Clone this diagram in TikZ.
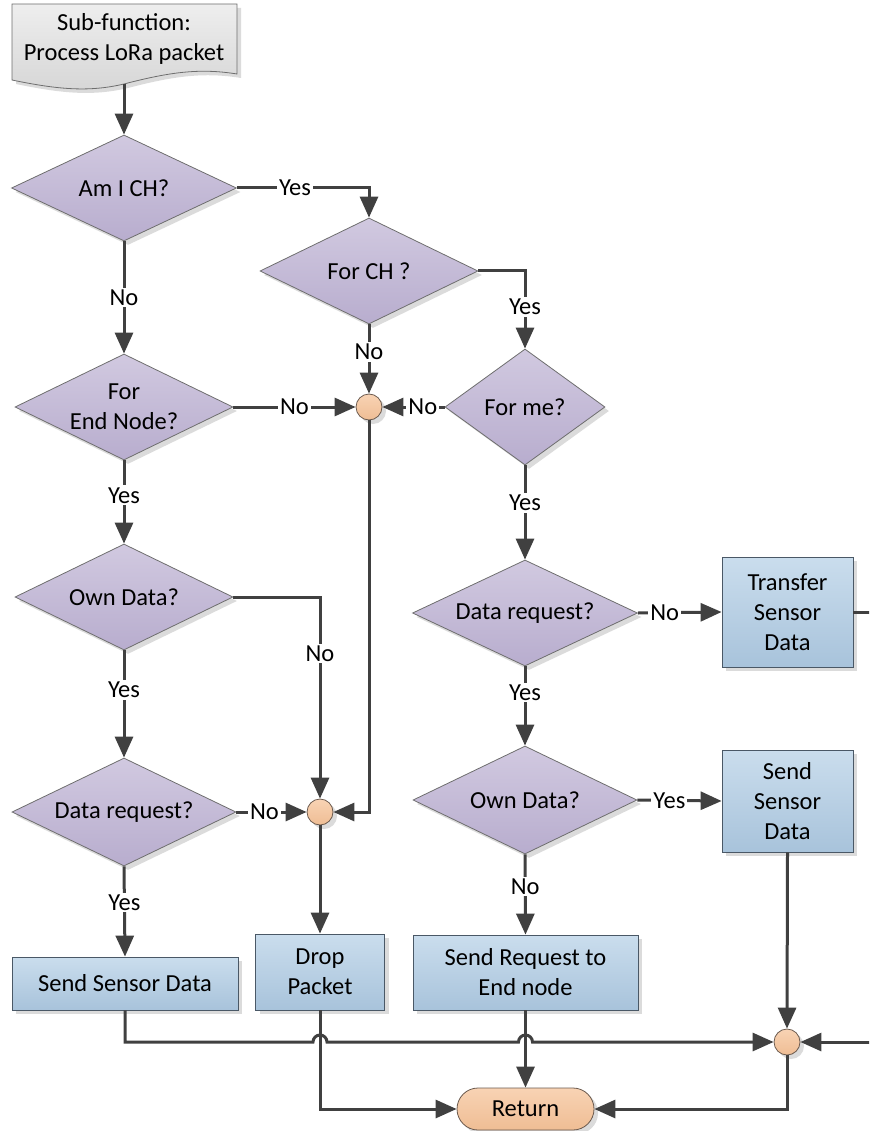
\documentclass[tikz,border=0pt]{standalone}
\usepackage{fontspec}
\setmainfont{Carlito}
\usetikzlibrary{arrows.meta,shapes.geometric,calc,shadows}

\definecolor{lineclr}{HTML}{404040}
\definecolor{decTop}{HTML}{D1C9E0}
\definecolor{decBot}{HTML}{B8ADCE}
\definecolor{decEdge}{HTML}{6E6E6E}
\definecolor{boxTop}{HTML}{CADDED}
\definecolor{boxBot}{HTML}{A8C3DB}
\definecolor{boxEdge}{HTML}{4A5866}
\definecolor{joinTop}{HTML}{F8D3B4}
\definecolor{joinBot}{HTML}{EFBD94}
\definecolor{joinEdge}{HTML}{6B5A4E}
\definecolor{docTop}{HTML}{EEEEEE}
\definecolor{docBot}{HTML}{D6D6D6}

\tikzset{
  txt/.style={font=\fontsize{24.5}{30}\selectfont, align=center, inner sep=0pt, text=black},
  shade/.style={drop shadow={shadow xshift=4pt, shadow yshift=-4pt, fill=black!14, opacity=1}},
  decision/.style 2 args={txt, diamond, shape aspect=2.1, draw=decEdge, line width=0.8pt,
    top color=decTop, bottom color=decBot, minimum width=#1, minimum height=#2, shade},
  process/.style 2 args={txt, rectangle, draw=boxEdge, line width=0.8pt,
    top color=boxTop, bottom color=boxBot, minimum width=#1, minimum height=#2, shade},
  junction/.style={circle, draw=joinEdge, line width=0.8pt, top color=joinTop,
    bottom color=joinBot, minimum size=26pt, inner sep=0pt, shade},
  terminal/.style={txt, rectangle, rounded corners=21pt, draw=joinEdge, line width=0.8pt,
    top color=joinTop, bottom color=joinBot, minimum width=137pt, minimum height=42pt, shade},
  flow/.style={draw=lineclr, line width=3pt, -{Triangle[length=21pt,width=18pt]}},
  lbl/.style={txt, fill=white, inner sep=2pt}
}

\begin{document}
\begin{tikzpicture}[x=1pt,y=1pt]
\useasboundingbox (0,0) rectangle (869,-1131);
\clip (0,0) rectangle (869,-1131);

% start document shape
\path[draw=decEdge, line width=0.8pt, top color=docTop, bottom color=docBot, shade]
  (12,-4) -- (237,-4) -- (237,-74)
  .. controls (200,-68) and (170,-72) .. (124,-84)
  .. controls (90,-92) and (60,-90) .. (12,-80) -- cycle;
\node[txt] (start) at (124,-39) {Sub-function:\\Process LoRa packet};
\coordinate (startout) at (124,-84);

% decisions
\node[decision={225pt}{106pt}] (amich) at (124,-188) {Am I CH?};
\node[decision={218pt}{106pt}] (forch) at (369,-271) {For CH ?};
\node[decision={218pt}{106pt}] (forend) at (124,-407) {For\\End Node?};
\node[decision={160pt}{116pt}, shape aspect=1.38] (forme) at (525,-407) {For me?};
\node[decision={218pt}{106pt}] (ownL) at (124,-597) {Own Data?};
\node[decision={224pt}{108pt}] (reqL) at (124,-812) {Data request?};
\node[decision={225pt}{106pt}] (reqR) at (525,-613) {Data request?};
\node[decision={224pt}{108pt}] (ownR) at (525,-800) {Own Data?};

% junctions
\node[junction] (c1) at (369,-407) {};
\node[junction] (c2) at (320,-812) {};
\node[junction] (c3) at (787,-1042) {};

% processes
\node[process={131pt}{110pt}] (transfer) at (787.5,-612) {Transfer\\Sensor\\Data};
\node[process={131pt}{102pt}] (sendR) at (787.5,-801) {Send\\Sensor\\Data};
\node[process={226pt}{53pt}] (sendL) at (125,-983.5) {Send Sensor Data};
\node[process={129pt}{76pt}] (drop) at (320,-972) {Drop\\Packet};
\node[process={225pt}{75pt}] (sendreq) at (525.5,-972.5) {Send Request to\\End node};

% terminal
\node[terminal] (ret) at (525.5,-1109) {Return};

% connectors
\draw[flow] (startout) -- (amich.north);
\draw[flow] (amich.east) -| node[lbl, pos=0.22] {Yes} (forch.north);
\draw[flow] (amich.south) -- node[lbl] {No} (forend.north);
\draw[flow] (forch.east) -| node[lbl, pos=0.73] {Yes} (forme.north);
\draw[flow] (forch.south) -- node[lbl, pos=0.4] {No} (c1.north);
\draw[flow] (forend.east) -- node[lbl] {No} (c1.west);
\draw[flow] (forme.west) -- node[lbl, pos=0.35] {No} (c1.east);
\draw[flow] (forend.south) -- node[lbl, pos=0.42] {Yes} (ownL.north);
\draw[flow] (ownL.east) -| node[lbl, pos=0.64] {No} (c2.north);
\draw[flow] (ownL.south) -- node[lbl, pos=0.37] {Yes} (reqL.north);
\draw[flow] (reqL.east) -- node[lbl, pos=0.4] {No} (c2.west);
\draw[flow] (c1.south) |- (c2.east);
\draw[flow] (reqL.south) -- node[lbl, pos=0.4] {Yes} (sendL.north);
\draw[flow] (c2.south) -- (drop.north);
\draw[flow] (forme.south) -- node[lbl, pos=0.4] {Yes} (reqR.north);
\draw[flow] (reqR.east) -- node[lbl, pos=0.32] {No} (transfer.west);
\draw[flow] (reqR.south) -- node[lbl, pos=0.33] {Yes} (ownR.north);
\draw[flow] (ownR.east) -- node[lbl, pos=0.38] {Yes} (sendR.west);
\draw[flow] (ownR.south) -- node[lbl, pos=0.4] {No} (sendreq.north);
\draw[flow] (sendR.south) -- (c3.north);
\draw[flow] (transfer.east) -- ++(40,0) |- (c3.east);

% line with hops over the two vertical connectors
\coordinate (hop1) at (drop.south |- c3.west);
\coordinate (hop2) at (sendreq.south |- c3.west);
\draw[flow] (sendL.south) |- ($(hop1)+(-7,0)$)
  arc[start angle=180, end angle=0, radius=7pt]
  -- ($(hop2)+(-7,0)$)
  arc[start angle=180, end angle=0, radius=7pt]
  -- (c3.west);

\draw[flow] (drop.south) |- (ret.west);
\draw[flow] (sendreq.south) -- (ret.north);
\draw[flow] (c3.south) |- (ret.east);
\end{tikzpicture}
\end{document}
